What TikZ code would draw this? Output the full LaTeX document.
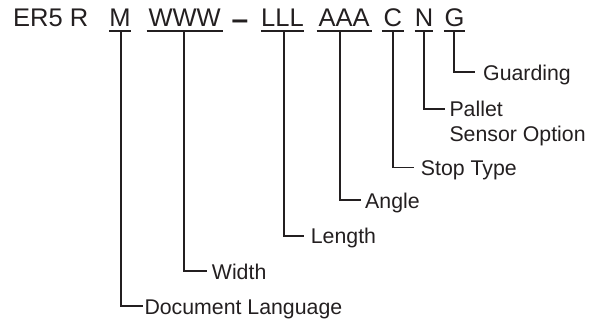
\documentclass[tikz,border=0pt]{standalone}
\usepackage{fontspec}
\setmainfont{Liberation Sans}
\definecolor{ink}{HTML}{231F20}
\begin{document}
\begin{tikzpicture}[x=1pt,y=-1pt,
  code/.style={inner sep=0pt,anchor=base,font=\fontsize{25.5}{28}\selectfont,text=ink},
  lbl/.style={inner sep=0pt,anchor=base west,font=\fontsize{21.3}{25}\selectfont,text=ink},
  uline/.style={line width=1.7pt,draw=ink},
  stem/.style={line width=1.7pt,draw=ink}]
\useasboundingbox (0,0) rectangle (603,324);
% title parts
\node[code,anchor=base west] (er) at (13,27) {ER5 R};
\node[code,minimum width=21.4pt] (m) at (120,27) {M};
\node[code,minimum width=76pt] (w) at (184.7,27) {WWW};
\node[code,font=\fontsize{30}{32}\selectfont\bfseries] (dash) at (240,29.5) {–};
\node[code,minimum width=43pt] (l) at (282.5,27) {LLL};
\node[code,minimum width=55pt] (a) at (344.2,27) {AAA};
\node[code,minimum width=21.7pt] (c) at (392.8,27) {C};
\node[code,minimum width=18pt] (n) at (424,27) {N};
\node[code,minimum width=21pt] (g) at (454.5,27) {G};
% underlines
\foreach \k in {m,w,l,a,c,n,g}
  \draw[uline] ([yshift=-4pt]\k.base west) -- ([yshift=-4pt]\k.base east);
% stem tops
\coordinate (ms) at (120.7,31);
\coordinate (ws) at (184.3,31);
\coordinate (ls) at (284,31);
\coordinate (as) at (340.3,31);
\coordinate (cs) at (393,31);
\coordinate (ns) at (424,31);
\coordinate (gs) at (454.2,31);
% labels
\node[lbl] (lg) at (483,80) {Guarding};
\node[lbl] (ln) at (449.3,116.5) {Pallet};
\node[lbl] (ln2) at (449.3,141.7) {Sensor Option};
\node[lbl] (lc) at (420.7,175.5) {Stop Type};
\node[lbl] (la) at (365,208) {Angle};
\node[lbl] (ll) at (310.7,243.5) {Length};
\node[lbl] (lw) at (211.7,279) {Width};
\node[lbl] (lm) at (144.3,314) {Document Language};
% elbow ends
\coordinate (ge) at (475,71.7);
\coordinate (ne) at (445,109);
\coordinate (ce) at (413.5,167.5);
\coordinate (ae) at (360.7,200);
\coordinate (le) at (304,235.7);
\coordinate (we) at (206.7,271);
\coordinate (me) at (142.7,306);
% connectors
\draw[stem] (gs) |- (ge);
\draw[stem] (ns) |- (ne);
\draw[stem] (cs) |- (ce);
\draw[stem] (as) |- (ae);
\draw[stem] (ls) |- (le);
\draw[stem] (ws) |- (we);
\draw[stem] (ms) |- (me);
\end{tikzpicture}
\end{document}
